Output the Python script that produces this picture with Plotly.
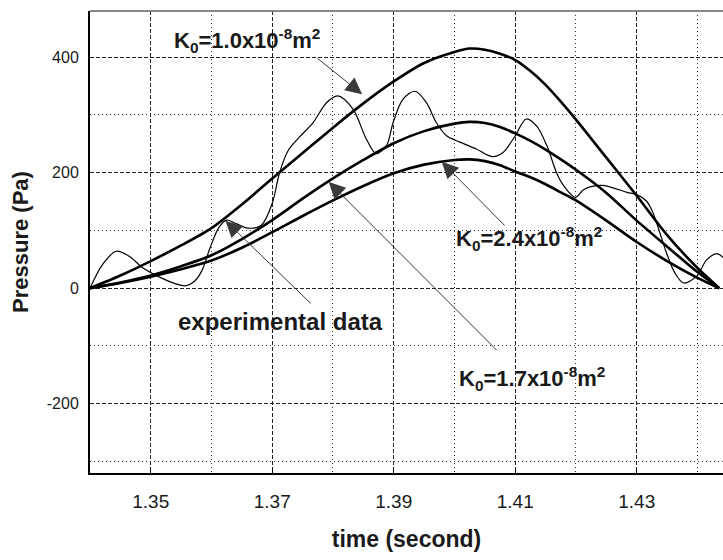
import plotly.graph_objects as go

# Simulated pressure for three permeability values and the measured trace
time_model = [1.340, 1.345, 1.350, 1.355, 1.360, 1.365, 1.370, 1.375, 1.380,
              1.385, 1.390, 1.395, 1.400, 1.4025, 1.405, 1.4075, 1.410, 1.4125,
              1.415, 1.4175, 1.420, 1.425, 1.430, 1.435, 1.440, 1.4436]
p_k10 = [0, 22, 47, 74, 104, 145, 190, 234, 278,
         320, 358, 390, 409, 415, 413, 406, 395, 376,
         352, 323, 292, 226, 160, 92, 35, 0]
p_k17 = [0, 10, 22, 38, 57, 85, 118, 155, 190,
         222, 251, 272, 285, 288, 286, 279, 268, 255,
         240, 223, 205, 165, 117, 72, 28, 0]
p_k24 = [0, 9, 20, 33, 48, 70, 97, 125, 152,
         177, 199, 214, 222, 223, 220, 213, 202, 192,
         180, 166, 152, 117, 80, 47, 18, 0]

time_exp = [1.3400, 1.3420, 1.3443, 1.3465, 1.3486, 1.3519, 1.3540, 1.3557,
            1.3572, 1.3584, 1.3598, 1.3612, 1.3625, 1.3640, 1.3660, 1.3682,
            1.3700, 1.3712, 1.3726, 1.3745, 1.3766, 1.3790, 1.3808, 1.3833,
            1.3855, 1.3871, 1.3888, 1.3899, 1.3915, 1.3935, 1.3954, 1.3970,
            1.3987, 1.4009, 1.4036, 1.4062, 1.4080, 1.4100, 1.4118, 1.4135,
            1.4152, 1.4168, 1.4180, 1.4199, 1.4213, 1.4243, 1.4284, 1.4300,
            1.4316, 1.4327, 1.4338, 1.4349, 1.4363, 1.4377, 1.4398, 1.4415,
            1.4432, 1.4445]
p_exp = [0, 40, 64, 55, 36, 17, 8, 4,
         12, 30, 71, 105, 118, 112, 104, 109,
         147, 200, 238, 262, 285, 322, 333, 310,
         258, 233, 247, 287, 327, 341, 321, 287,
         264, 253, 241, 228, 235, 264, 293, 281,
         247, 200, 177, 157, 171, 178, 166, 162,
         151, 130, 96, 61, 26, 9, 20, 49,
         60, 50]

x_ticks = [1.35, 1.37, 1.39, 1.41, 1.43]
x_ticklabels = ["1.35", "1.37", "1.39", "1.41", "1.43"]
y_ticks = [-200, 0, 200, 400]
y_ticklabels = ["-200", "0", "200", "400"]

FONT = "Liberation Sans, Arial, sans-serif"
INK = "#1a1a1a"

fig = go.Figure()
for p in (p_k10, p_k17, p_k24):
    fig.add_trace(go.Scatter(x=time_model, y=p, mode="lines",
                             line=dict(color="black", width=2.6, shape="spline", smoothing=0.8),
                             showlegend=False, hoverinfo="skip"))
fig.add_trace(go.Scatter(x=time_exp, y=p_exp, mode="lines",
                         line=dict(color="black", width=1.2, shape="spline", smoothing=0.9),
                         showlegend=False, hoverinfo="skip"))

labels = [
    ("K<sub>0</sub>=1.0x10<sup>-8</sup>m<sup>2</sup>", 1.3659, 429, 22),
    ("K<sub>0</sub>=2.4x10<sup>-8</sup>m<sup>2</sup>", 1.4122, 86, 22),
    ("experimental data", 1.3713, -58, 24),
    ("K<sub>0</sub>=1.7x10<sup>-8</sup>m<sup>2</sup>", 1.4127, -156, 22),
]
for txt, xv, yv, fs in labels:
    fig.add_annotation(x=xv, y=yv, text=txt, showarrow=False,
                       font=dict(family=FONT, size=fs, color=INK, weight="bold"),
                       xanchor="center", yanchor="middle")

# pointer arrows: (tip_x, tip_y, tail_x, tail_y)
arrows = [
    (1.3848, 336, 1.3772, 400),
    (1.3979, 219, 1.4085, 106),
    (1.3623, 117, 1.3766, -29),
    (1.3793, 184, 1.4072, -110),
]
for tx, ty, sx, sy in arrows:
    fig.add_annotation(x=tx, y=ty, ax=sx, ay=sy, axref="x", ayref="y",
                       text="", showarrow=True, arrowhead=2, arrowsize=3.3,
                       arrowwidth=1, arrowcolor="#3a3a3a")

grid_major = dict(showgrid=True, gridcolor="#222", gridwidth=1, griddash="4px,2px")
grid_minor = dict(showgrid=True, gridcolor="#333", gridwidth=1, griddash="1px,3px", ticks="")

fig.update_xaxes(range=[1.34, 1.4442], tickvals=x_ticks, ticktext=x_ticklabels,
                 ticks="inside", ticklen=5, tickcolor="black",
                 tickfont=dict(family=FONT, size=19, color=INK),
                 showline=True, linecolor="black", linewidth=2, mirror=False,
                 zeroline=False, ticklabelstandoff=10,
                 minor=dict(tickvals=[1.36, 1.38, 1.40, 1.42, 1.44], **grid_minor),
                 title=dict(text="time (second)", standoff=20,
                            font=dict(family=FONT, size=23, color=INK, weight="bold")),
                 **grid_major)
fig.update_yaxes(range=[-320, 480], tickvals=y_ticks, ticktext=y_ticklabels,
                 ticks="", tickfont=dict(family=FONT, size=16, color=INK),
                 showline=True, linecolor="black", linewidth=2, mirror=False,
                 zeroline=False, ticklabelstandoff=6,
                 minor=dict(tickvals=[-300, -100, 100, 300], **grid_minor),
                 title=dict(text="Pressure (Pa)", standoff=12,
                            font=dict(family=FONT, size=22, color=INK, weight="bold")),
                 **grid_major)

fig.add_shape(type="line", xref="paper", yref="paper", x0=0, x1=1, y0=1, y1=1,
              line=dict(color="#888", width=2))

fig.update_layout(width=723, height=560, margin=dict(l=90, r=0, t=11, b=87),
                  plot_bgcolor="white", paper_bgcolor="white")

fig.write_html("out.html")
